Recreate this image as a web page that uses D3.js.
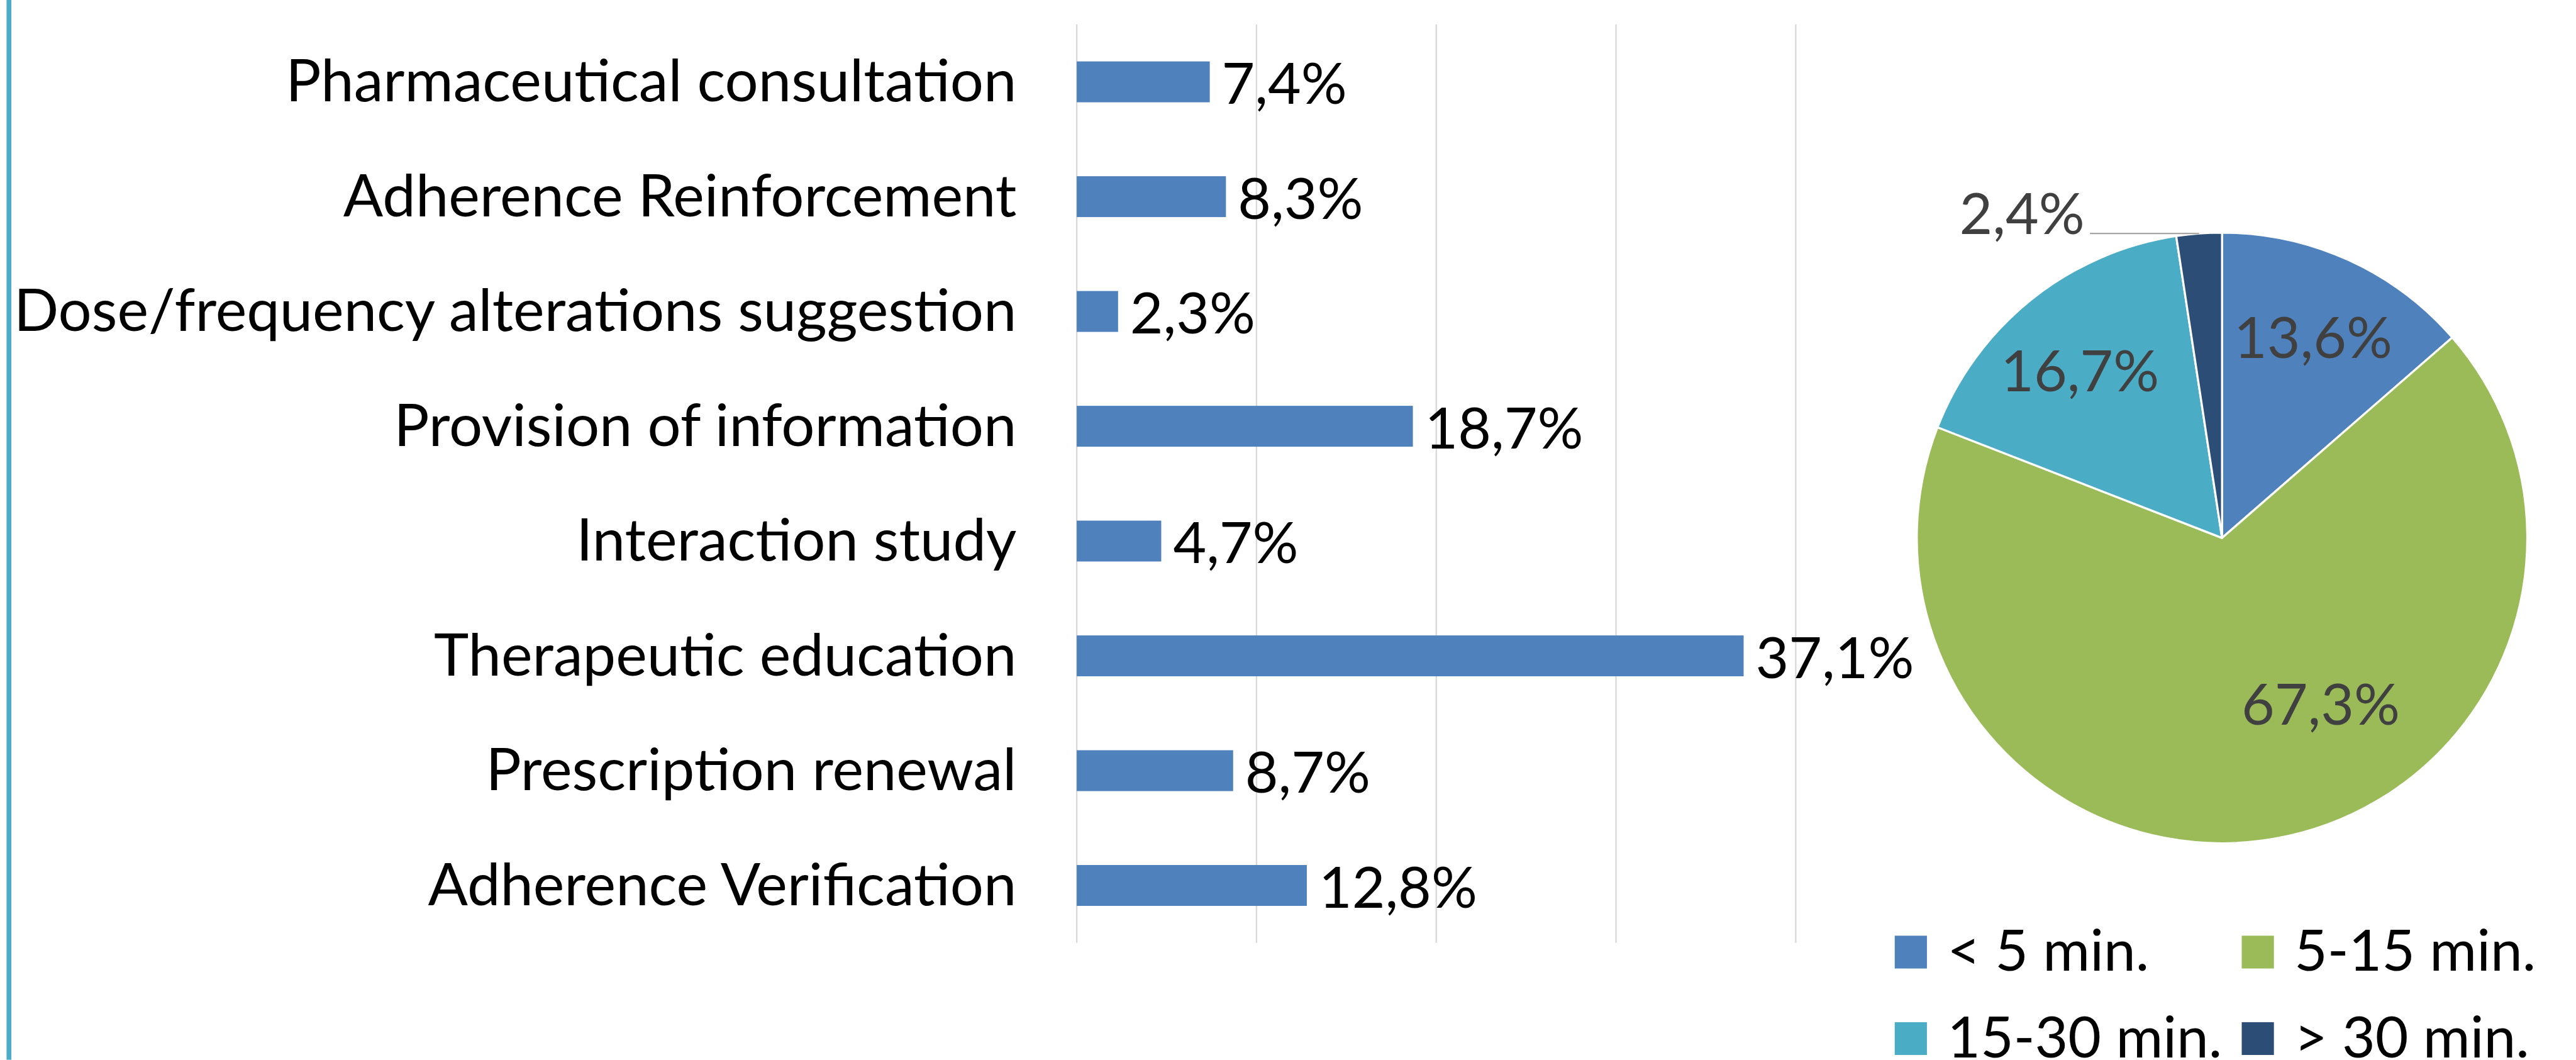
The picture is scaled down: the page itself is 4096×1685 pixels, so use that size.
<!DOCTYPE html>
<html>
<head>
<meta charset="utf-8">
<script src="https://cdn.jsdelivr.net/npm/d3@7"></script>
<style>
  html, body { margin: 0; padding: 0; background: #fff; }
  svg { display: block; }
</style>
</head>
<body>
<div class="chart"></div>
<script>
// bar chart: share of each type of pharmaceutical intervention (%)
var categories = [
  "Pharmaceutical consultation",
  "Adherence Reinforcement",
  "Dose/frequency alterations suggestion",
  "Provision of information",
  "Interaction study",
  "Therapeutic education",
  "Prescription renewal",
  "Adherence Verification"
];
var shares = [7.4, 8.3, 2.3, 18.7, 4.7, 37.1, 8.7, 12.8];
var xTicks = [0, 10, 20, 30, 40];

// pie chart: duration of the intervention (%)
var durations = ["< 5 min.", "5-15 min.", "15-30 min.", "> 30 min."];
var durationShares = [13.6, 67.3, 16.7, 2.4];
var durationColors = ["#4f81bd", "#9bbb59", "#4bacc6", "#2c4d75"];

// layout is in reference pixels, the whole drawing is scaled down at the end
var width = 4319;
var height = 1777;
var scale = 0.948;
var font = "Lato, 'Open Sans', sans-serif";
var fontSize = 96;
var catFontSize = 99;

var locale = d3.formatLocale({decimal: ",", thousands: ".", grouping: [3], currency: ["", ""]});
var pct = v => locale.format(".1f")(v) + "%";

var root = d3.select(".chart")
  .append("svg")
  .attr("width", 4096)
  .attr("height", 1685);

var svg = root.append("g")
  .attr("transform", `scale(${scale})`)
  .style("font-family", font);

// left border of the frame
svg.append("rect")
  .attr("x", 11)
  .attr("y", 0)
  .attr("width", 8)
  .attr("height", height)
  .style("fill", "#4bacc6");

/* ---------- bars ---------- */
var plot = {left: 1806, right: 3012, top: 41, bottom: 1581};

var xScale = d3.scaleLinear().domain([0, 40]).range([plot.left, plot.right]);
var yScale = d3.scaleBand()
  .domain(categories)
  .range([plot.top, plot.bottom])
  .paddingInner(0.644)
  .paddingOuter(0.322);

// vertical gridlines
svg.append("g")
  .selectAll("line")
  .data(xTicks)
  .enter().append("line")
  .attr("x1", d => xScale(d))
  .attr("x2", d => xScale(d))
  .attr("y1", plot.top)
  .attr("y2", plot.bottom)
  .style("stroke", "#d9d9d9")
  .style("stroke-width", 2.5);

var rows = svg.append("g")
  .selectAll("g")
  .data(categories)
  .enter().append("g")
  .attr("transform", d => `translate(0,${yScale(d) + yScale.bandwidth() / 2})`);

rows.append("rect")
  .attr("x", xScale(0))
  .attr("y", -yScale.bandwidth() / 2)
  .attr("width", (d, i) => xScale(shares[i]) - xScale(0))
  .attr("height", yScale.bandwidth())
  .style("fill", "#4f81bd");

// category names
rows.append("text")
  .attr("x", plot.left - 101)
  .attr("y", 33)
  .attr("text-anchor", "end")
  .style("font-size", catFontSize + "px")
  .style("fill", "#000")
  .text(d => d);

// value labels
rows.append("text")
  .attr("x", (d, i) => xScale(shares[i]) + 20)
  .attr("y", 37)
  .style("font-size", fontSize + "px")
  .style("fill", "#000")
  .text((d, i) => pct(shares[i]));

/* ---------- pie ---------- */
var cx = 3727, cy = 902, radius = 512;

var pie = d3.pie().sort(null).value(d => d);
var arcs = pie(durationShares);
var arc = d3.arc().innerRadius(0).outerRadius(radius);

var pieG = svg.append("g")
  .attr("transform", `translate(${cx},${cy})`);

pieG.selectAll("path")
  .data(arcs)
  .enter().append("path")
  .attr("d", arc)
  .style("fill", (d, i) => durationColors[i])
  .style("stroke", "#fff")
  .style("stroke-width", 3.5)
  .style("stroke-linejoin", "round");

// inside labels sit around 0.72 of the radius, Excel moves the big one a bit
var labelArc = d3.arc().innerRadius(radius * 0.72).outerRadius(radius * 0.72);
var labelNudge = {1: [102, -84], 2: [-8, 8]};

arcs.forEach((d, i) => {
  if (d.data < 5) {
    // small slice: label outside with a leader line
    var mid = (d.startAngle + d.endAngle) / 2;
    var ex = radius * Math.sin(mid), ey = -radius * Math.cos(mid);
    pieG.append("line")
      .attr("x1", ex).attr("y1", ey)
      .attr("x2", ex - 183).attr("y2", ey)
      .style("stroke", "#a6a6a6")
      .style("stroke-width", 2.5);
    pieG.append("text")
      .attr("x", ex - 192)
      .attr("y", ey + 1)
      .attr("text-anchor", "end")
      .style("font-size", fontSize + "px")
      .style("fill", "#404040")
      .text(pct(d.data));
    return;
  }
  var c = labelArc.centroid(d);
  var n = labelNudge[i] || [0, 0];
  pieG.append("text")
    .attr("x", c[0] + n[0])
    .attr("y", c[1] + n[1] + 34)
    .attr("text-anchor", "middle")
    .style("font-size", fontSize + "px")
    .style("fill", "#404040")
    .text(pct(d.data));
});

/* ---------- legend ---------- */
var legend = svg.append("g")
  .selectAll("g")
  .data(durations)
  .enter().append("g")
  .attr("transform", (d, i) => `translate(${3178 + (i % 2) * 582},${1569 + Math.floor(i / 2) * 145})`);

legend.append("rect")
  .attr("width", 54)
  .attr("height", 55)
  .style("fill", (d, i) => durationColors[i]);

legend.append("text")
  .attr("x", 88)
  .attr("y", 59)
  .style("font-size", fontSize + "px")
  .style("fill", "#000")
  .text(d => d);
</script>
</body>
</html>
